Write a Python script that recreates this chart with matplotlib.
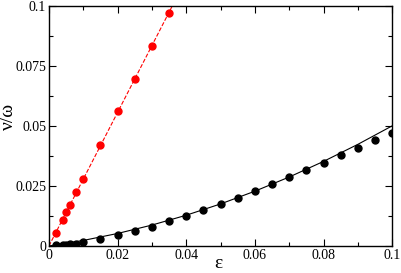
import numpy as np
import matplotlib.pyplot as plt

# red series (simulation points) and its dashed fit
eps_red = [0.002, 0.004, 0.005, 0.006, 0.008, 0.010, 0.015, 0.020, 0.025, 0.030, 0.035]
nu_red = [0.0055, 0.0110, 0.0140, 0.0170, 0.0225, 0.0280, 0.0420, 0.0560, 0.0695, 0.0833, 0.0970]
eps_red_line = [0.0, 0.040]
nu_red_line = [0.0, 0.1112]

# black series (simulation points) and its solid theory curve
eps_blk = [0.002, 0.004, 0.005, 0.006, 0.008, 0.010, 0.015, 0.020, 0.025, 0.030, 0.035,
           0.040, 0.045, 0.050, 0.055, 0.060, 0.065, 0.070, 0.075, 0.080, 0.085,
           0.090, 0.095, 0.100]
nu_blk = [0.0004, 0.0005, 0.0006, 0.0008, 0.0010, 0.0015, 0.0029, 0.0044, 0.0062, 0.0080,
          0.0103, 0.0125, 0.0149, 0.0175, 0.0200, 0.0228, 0.0257, 0.0286, 0.0315,
          0.0346, 0.0378, 0.0408, 0.0440, 0.0472]
eps_blk_line = [0.0, 0.01, 0.02, 0.03, 0.04, 0.05, 0.06, 0.07, 0.08, 0.09, 0.10]
nu_blk_line = [0.0, 0.0023, 0.0052, 0.0087, 0.0128, 0.0175, 0.0228, 0.0287, 0.0352, 0.0423, 0.0500]

xticks = [0, 0.02, 0.04, 0.06, 0.08, 0.1]
xticklabels = ['0', '0.02', '0.04', '0.06', '0.08', '0.1']
yticks = [0, 0.025, 0.05, 0.075, 0.1]
yticklabels = ['0', '0.025', '0.05', '0.075', '0.1']

plt.rcParams['font.family'] = ['Liberation Serif', 'DejaVu Serif']
fig = plt.figure(figsize=(4.01, 2.73), dpi=100)
ax = fig.add_axes([0.122, 0.099, 0.856, 0.88])

ax.plot(eps_red_line, nu_red_line, '--', color='red', lw=0.8)
ax.plot(eps_red, nu_red, 'o', color='red', ms=5)
ax.plot(eps_blk_line, nu_blk_line, '-', color='black', lw=0.8)
ax.plot(eps_blk, nu_blk, 'o', color='black', ms=5)

ax.set_xlim(0, 0.1)
ax.set_ylim(0, 0.1)
ax.set_xticks(xticks)
ax.set_xticklabels(xticklabels)
ax.set_xticks(np.arange(0.01, 0.1, 0.02), minor=True)
ax.set_yticks(yticks)
ax.set_yticklabels(yticklabels)
ax.set_yticks(np.arange(0.0125, 0.1, 0.025), minor=True)
ax.tick_params(which='both', direction='in', top=True, right=True, labelsize=10, width=0.8)
ax.tick_params(which='major', length=5)
ax.tick_params(which='minor', length=3)
ax.tick_params(axis='x', pad=2)
ax.tick_params(axis='y', pad=2)
for s in ax.spines.values():
    s.set_linewidth(1.0)

ax.set_xlabel('ε', fontsize=14, va='center', ha='center')
ax.set_ylabel('ν/ω', fontsize=14, va='center', ha='center')
ax.xaxis.set_label_coords(0.493, -0.075)
ax.yaxis.set_label_coords(-0.117, 0.54)

fig.savefig('out.png', dpi=100)
